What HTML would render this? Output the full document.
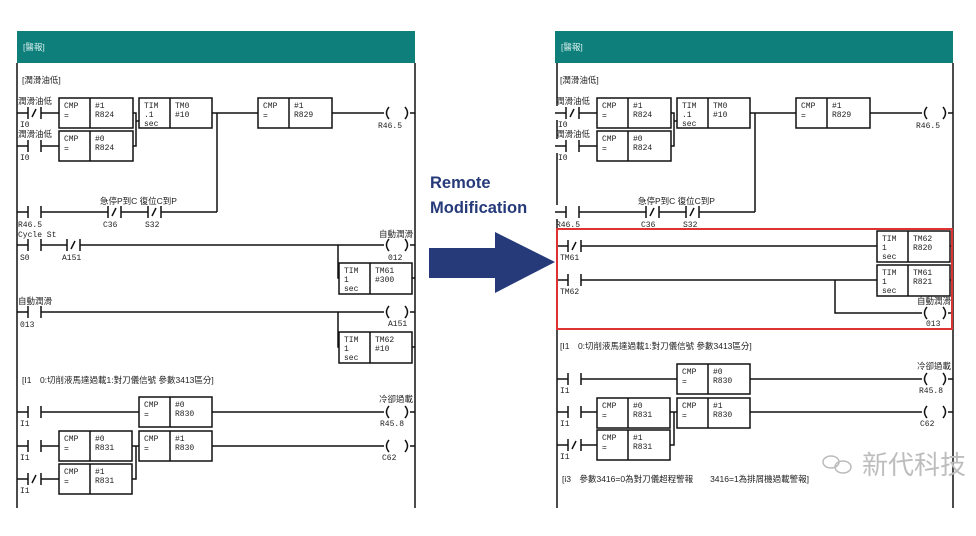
<!DOCTYPE html>
<html><head><meta charset="utf-8"><style>
html,body{margin:0;padding:0;background:#fff;}
svg{display:block;}
text{font-family:"Liberation Mono","Noto Sans CJK TC",monospace;font-size:8px;fill:#222;}
.c{font-family:"Liberation Sans","Noto Sans CJK TC",sans-serif;font-size:8.5px;}
</style></head><body>
<svg width="976" height="536" viewBox="0 0 976 536" xmlns="http://www.w3.org/2000/svg">
<defs>
<g id="no"><rect x="0" y="-7" width="30" height="14" fill="#fff"/><path d="M0,0H10M10,-6V6M23,-6V6M23,0H30" stroke="#111" stroke-width="1.5" fill="none"/></g>
<g id="nc"><rect x="0" y="-7" width="30" height="14" fill="#fff"/><path d="M0,0H10M10,-6V6M23,-6V6M23,0H30M14,4L18,-4" stroke="#111" stroke-width="1.5" fill="none"/></g>
<g id="coil"><rect x="0" y="-7" width="26" height="14" fill="#fff"/><path d="M5,-6Q0,0 5,6M21,-6Q26,0 21,6" stroke="#111" stroke-width="1.5" fill="none"/></g>
</defs>
<g stroke="#111" stroke-width="1.5" fill="none">
<!-- LEFT PANEL -->
<path d="M17,63V508M415,63V508"/>
<path d="M17,113H59M17,146H59M133,113H136V146H133M136,121H139M212,113H258M332,113H415M217,113V212M17,212H217"/>
<rect x="59" y="98" width="74" height="30"/><path d="M90,98V128"/>
<rect x="59" y="131" width="74" height="30"/><path d="M90,131V161"/>
<rect x="139" y="98" width="73" height="30"/><path d="M170,98V128"/>
<rect x="258" y="98" width="74" height="30"/><path d="M289,98V128"/>
<path d="M17,245H415M338,245V278H339"/>
<rect x="339" y="263" width="73" height="31"/><path d="M370,263V294M412,278H415"/>
<path d="M17,312H415M338,312V347H339"/>
<rect x="339" y="332" width="73" height="31"/><path d="M370,332V363M412,347H415"/>
<path d="M17,412H139M212,412H415"/>
<rect x="139" y="397" width="73" height="30"/><path d="M170,397V427"/>
<path d="M17,446H59M132,446H136V479H132M136,446H139M212,446H415M17,479H59"/>
<rect x="59" y="431" width="73" height="30"/><path d="M90,431V461"/>
<rect x="139" y="431" width="73" height="30"/><path d="M170,431V461"/>
<rect x="59" y="464" width="73" height="30"/><path d="M90,464V494"/>
<!-- RIGHT PANEL -->
<path d="M557,63V508M953,63V508"/>
<g transform="translate(538,0)">
<path d="M17,113H59M17,146H59M133,113H136V146H133M136,121H139M212,113H258M332,113H415M217,113V212M17,212H217"/>
<rect x="59" y="98" width="74" height="30"/><path d="M90,98V128"/>
<rect x="59" y="131" width="74" height="30"/><path d="M90,131V161"/>
<rect x="139" y="98" width="73" height="30"/><path d="M170,98V128"/>
<rect x="258" y="98" width="74" height="30"/><path d="M289,98V128"/>
</g>
<path d="M557,246H877M950,246H953M557,280H877M950,280H953M835,280V313H953"/>
<rect x="877" y="231" width="73" height="31"/><path d="M908,231V262"/>
<rect x="877" y="265" width="73" height="31"/><path d="M908,265V296"/>
<path d="M557,379H677M750,379H953"/>
<rect x="677" y="364" width="73" height="30"/><path d="M708,364V394"/>
<path d="M557,412H597M670,412H674V445H670M674,412H677M750,412H953M557,445H597"/>
<rect x="597" y="398" width="73" height="30"/><path d="M628,398V428"/>
<rect x="677" y="398" width="73" height="30"/><path d="M708,398V428"/>
<rect x="597" y="430" width="73" height="30"/><path d="M628,430V460"/>
</g>
<rect x="557" y="229" width="395" height="100" fill="none" stroke="#d33" stroke-width="2"/>
<rect x="17" y="31" width="398" height="32" fill="#0f7f7b"/>
<rect x="555" y="31" width="398" height="32" fill="#0f7f7b"/>
<!-- contacts/coils left -->
<use href="#nc" x="18" y="113"/><use href="#no" x="18" y="146"/><use href="#coil" x="384" y="113"/>
<use href="#no" x="18" y="212"/><use href="#nc" x="98" y="212"/><use href="#nc" x="138" y="212"/>
<use href="#no" x="18" y="245"/><use href="#nc" x="57" y="245"/><use href="#coil" x="384" y="245"/>
<use href="#no" x="18" y="312"/><use href="#coil" x="384" y="312"/>
<use href="#no" x="18" y="412"/><use href="#coil" x="384" y="412"/>
<use href="#no" x="18" y="446"/><use href="#coil" x="384" y="446"/>
<use href="#nc" x="18" y="479"/>
<!-- right -->
<use href="#nc" x="556" y="113"/><use href="#no" x="556" y="146"/><use href="#coil" x="922" y="113"/>
<use href="#no" x="556" y="212"/><use href="#nc" x="636" y="212"/><use href="#nc" x="676" y="212"/>
<use href="#nc" x="558" y="246"/><use href="#no" x="558" y="280"/><use href="#coil" x="922" y="313"/>
<use href="#no" x="558" y="379"/><use href="#coil" x="922" y="379"/>
<use href="#no" x="558" y="412"/><use href="#coil" x="922" y="412"/>
<use href="#nc" x="558" y="445"/>
<!-- text left -->
<text x="23" y="50" class="c" style="fill:#d8f0ee">[醫報]</text>
<text x="22" y="83" class="c">[潤滑油低]</text>
<g>
<text x="18" y="104" class="c">潤滑油低</text><text x="20" y="127">I0</text>
<text x="18" y="137" class="c">潤滑油低</text><text x="20" y="160">I0</text>
<text x="64" y="108">CMP</text><text x="64" y="118">=</text><text x="95" y="108">#1</text><text x="95" y="117">R824</text>
<text x="64" y="141">CMP</text><text x="64" y="151">=</text><text x="95" y="141">#0</text><text x="95" y="150">R824</text>
<text x="144" y="108">TIM</text><text x="144" y="117">.1</text><text x="144" y="126">sec</text><text x="175" y="108">TM0</text><text x="175" y="117">#10</text>
<text x="263" y="108">CMP</text><text x="263" y="118">=</text><text x="294" y="108">#1</text><text x="294" y="117">R829</text>
<text x="378" y="128">R46.5</text>
<text x="100" y="204" class="c">急停P到C 復位C到P</text>
<text x="18" y="227">R46.5</text><text x="103" y="227">C36</text><text x="145" y="227">S32</text>
</g>
<text x="18" y="237">Cycle St</text><text x="20" y="260">S0</text><text x="62" y="260">A151</text>
<text x="413" y="237" class="c" text-anchor="end">自動潤滑</text><text x="388" y="260">012</text>
<text x="344" y="273">TIM</text><text x="344" y="282">1</text><text x="344" y="291">sec</text><text x="375" y="273">TM61</text><text x="375" y="282">#300</text>
<text x="18" y="304" class="c">自動潤滑</text><text x="20" y="327">013</text><text x="388" y="326">A151</text>
<text x="344" y="342">TIM</text><text x="344" y="351">1</text><text x="344" y="360">sec</text><text x="375" y="342">TM62</text><text x="375" y="351">#10</text>
<text x="22" y="383" class="c">[I1　0:切削液馬達過載1:對刀儀信號 參數3413區分]</text>
<text x="144" y="407">CMP</text><text x="144" y="417">=</text><text x="175" y="407">#0</text><text x="175" y="416">R830</text>
<text x="413" y="402" class="c" text-anchor="end">冷卻過載</text><text x="380" y="426">R45.8</text><text x="20" y="426">I1</text>
<text x="64" y="441">CMP</text><text x="64" y="451">=</text><text x="95" y="441">#0</text><text x="95" y="450">R831</text>
<text x="144" y="441">CMP</text><text x="144" y="451">=</text><text x="175" y="441">#1</text><text x="175" y="450">R830</text>
<text x="382" y="460">C62</text><text x="20" y="460">I1</text>
<text x="64" y="474">CMP</text><text x="64" y="484">=</text><text x="95" y="474">#1</text><text x="95" y="483">R831</text><text x="20" y="493">I1</text>
<!-- text right -->
<g transform="translate(538,0)">
<text x="23" y="50" class="c" style="fill:#d8f0ee">[醫報]</text>
<text x="22" y="83" class="c">[潤滑油低]</text>
<text x="18" y="104" class="c">潤滑油低</text><text x="20" y="127">I0</text>
<text x="18" y="137" class="c">潤滑油低</text><text x="20" y="160">I0</text>
<text x="64" y="108">CMP</text><text x="64" y="118">=</text><text x="95" y="108">#1</text><text x="95" y="117">R824</text>
<text x="64" y="141">CMP</text><text x="64" y="151">=</text><text x="95" y="141">#0</text><text x="95" y="150">R824</text>
<text x="144" y="108">TIM</text><text x="144" y="117">.1</text><text x="144" y="126">sec</text><text x="175" y="108">TM0</text><text x="175" y="117">#10</text>
<text x="263" y="108">CMP</text><text x="263" y="118">=</text><text x="294" y="108">#1</text><text x="294" y="117">R829</text>
<text x="378" y="128">R46.5</text>
<text x="100" y="204" class="c">急停P到C 復位C到P</text>
<text x="18" y="227">R46.5</text><text x="103" y="227">C36</text><text x="145" y="227">S32</text>
</g>
<text x="560" y="260">TM61</text><text x="560" y="294">TM62</text>
<text x="882" y="241">TIM</text><text x="882" y="250">1</text><text x="882" y="259">sec</text><text x="913" y="241">TM62</text><text x="913" y="250">R820</text>
<text x="882" y="275">TIM</text><text x="882" y="284">1</text><text x="882" y="293">sec</text><text x="913" y="275">TM61</text><text x="913" y="284">R821</text>
<text x="951" y="304" class="c" text-anchor="end">自動潤滑</text><text x="926" y="326">013</text>
<text x="560" y="349" class="c">[I1　0:切削液馬達過載1:對刀儀信號 參數3413區分]</text>
<text x="682" y="374">CMP</text><text x="682" y="384">=</text><text x="713" y="374">#0</text><text x="713" y="383">R830</text>
<text x="951" y="369" class="c" text-anchor="end">冷卻過載</text><text x="919" y="393">R45.8</text><text x="560" y="393">I1</text>
<text x="602" y="408">CMP</text><text x="602" y="418">=</text><text x="633" y="408">#0</text><text x="633" y="417">R831</text>
<text x="682" y="408">CMP</text><text x="682" y="418">=</text><text x="713" y="408">#1</text><text x="713" y="417">R830</text>
<text x="920" y="426">C62</text><text x="560" y="426">I1</text>
<text x="602" y="440">CMP</text><text x="602" y="450">=</text><text x="633" y="440">#1</text><text x="633" y="449">R831</text><text x="560" y="459">I1</text>
<text x="562" y="482" class="c">[i3　參數3416=0為對刀儀超程警報　　3416=1為排屑機過載警報]</text>
<!-- watermark -->
<g fill="none" stroke="#bbb" stroke-width="1.5"><ellipse cx="831" cy="462" rx="8" ry="6"/><ellipse cx="843" cy="467" rx="8" ry="6"/></g>
<text x="862" y="474" style="font-family:'Liberation Sans','Noto Sans CJK TC',sans-serif;font-size:26px;fill:#bdbdbd">新代科技</text>
<!-- arrow & caption -->
<text x="430" y="188" style="font-family:'Liberation Sans',sans-serif;font-weight:bold;font-size:16.5px;fill:#263a7a">Remote</text>
<text x="430" y="213" style="font-family:'Liberation Sans',sans-serif;font-weight:bold;font-size:16.5px;fill:#263a7a">Modification</text>
<polygon points="429,248 495,248 495,232 555,262 495,293 495,278 429,278" fill="#263a7a"/>
</svg>
</body></html>
